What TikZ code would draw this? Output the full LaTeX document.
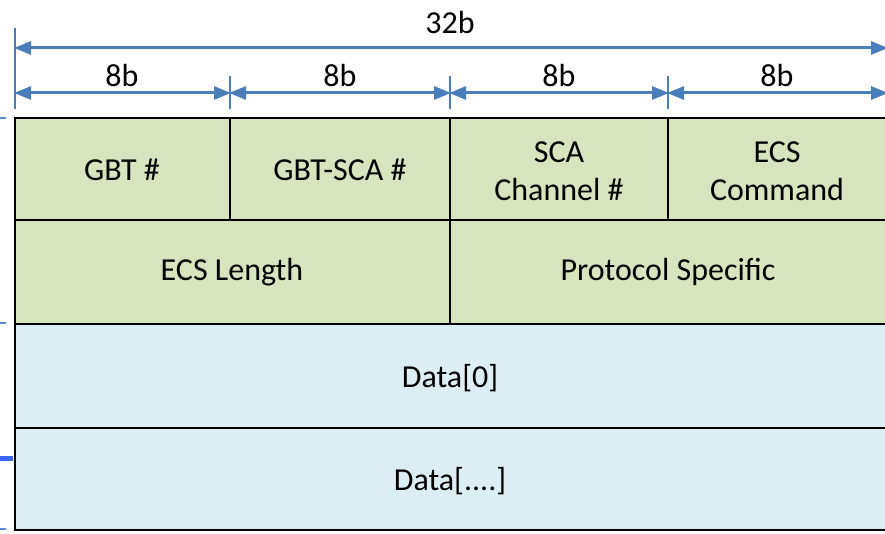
\documentclass[tikz,border=0pt]{standalone}
\usepackage{fontspec}
\setmainfont{Carlito}
\usetikzlibrary{arrows.meta}
\definecolor{hdrgreen}{HTML}{D7E4BD}
\definecolor{datablue}{HTML}{DBEEF4}
\definecolor{dimblue}{HTML}{4A7EBB}
\definecolor{tickblue}{HTML}{5B8BD0}
\definecolor{markblue}{HTML}{3A66FF}
\tikzset{
  field/.style={draw=black, line width=2.4pt},
  hdr/.style={field, fill=hdrgreen},
  dat/.style={field, fill=datablue},
  lbl/.style={font=\fontsize{32}{38}\selectfont, align=center, inner sep=0pt},
  dim/.style={draw=dimblue, line width=3pt, {Triangle[length=17pt,width=13pt]}-{Triangle[length=17pt,width=13pt]}, shorten <=-1pt, shorten >=-1pt},
  ext/.style={draw=dimblue, line width=2pt},
  sidetick/.style={draw=tickblue, line width=2.5pt}
}
\begin{document}
\begin{tikzpicture}[x=1pt, y=-1pt]
\useasboundingbox (0,0) rectangle (885,534);
\begin{scope}
\clip (0,0) rectangle (885,534);

% ---- header fields
\draw[hdr] (15,118) rectangle (230,220);
\draw[hdr] (230,118) rectangle (450,220);
\draw[hdr] (450,118) rectangle (668,220);
\draw[hdr] (668,118) rectangle (887,220);
\draw[hdr] (15,220) rectangle (450,324);
\draw[hdr] (450,220) rectangle (887,324);
% ---- data words
\draw[dat] (15,324) rectangle (887,428);
\draw[dat] (15,428) rectangle (887,530);

\node[lbl] (gbt) at (122,170) {GBT \#};
\node[lbl] (gbtsca) at (340,170) {GBT-SCA \#};
\node[lbl] (scach) at (559,171) {SCA\\Channel \#};
\node[lbl] (ecscmd) at (777,171) {ECS\\Command};
\node[lbl] (ecslen) at (232,272) {ECS Length};
\node[lbl] (proto) at (668,272) {Protocol Specific};
\node[lbl] (d0) at (450,378) {Data[0]};
\node[lbl] (dn) at (450,481) {Data[....]};

% ---- extension lines
\coordinate (e0t) at (15,28);  \coordinate (e0b) at (15,109);
\coordinate (e1t) at (230,76); \coordinate (e1b) at (230,109);
\coordinate (e2t) at (450,76); \coordinate (e2b) at (450,109);
\coordinate (e3t) at (668,76); \coordinate (e3b) at (668,109);
\coordinate (e4t) at (887,28); \coordinate (e4b) at (887,109);
\draw[ext] (e0t) -- (e0b);
\draw[ext] (e1t) -- (e1b);
\draw[ext] (e2t) -- (e2b);
\draw[ext] (e3t) -- (e3b);
\draw[ext] (e4t) -- (e4b);

% ---- dimension arrows
\coordinate (w0) at (15,48);  \coordinate (w1) at (887,48);
\draw[dim] (w0) -- (w1);
\coordinate (b0) at (15,93);  \coordinate (b1) at (230,93);
\coordinate (b2) at (450,93); \coordinate (b3) at (668,93);
\coordinate (b4) at (887,93);
\draw[dim] (b0) -- (b1);
\draw[dim] (b1) -- (b2);
\draw[dim] (b2) -- (b3);
\draw[dim] (b3) -- (b4);

\node[lbl] (w32) at (450,23) {32b};
\node[lbl] (w8a) at (122,76) {8b};
\node[lbl] (w8b) at (340,76) {8b};
\node[lbl] (w8c) at (559,76) {8b};
\node[lbl] (w8d) at (777,76) {8b};

% ---- side marks
\draw[sidetick] (0,118) -- (6,118);
\draw[sidetick] (0,323) -- (6,323);
\draw[sidetick] (0,529) -- (6,529);
\draw[draw=markblue, line width=5pt] (0,458) -- (13,458);
\end{scope}
\end{tikzpicture}
\end{document}
